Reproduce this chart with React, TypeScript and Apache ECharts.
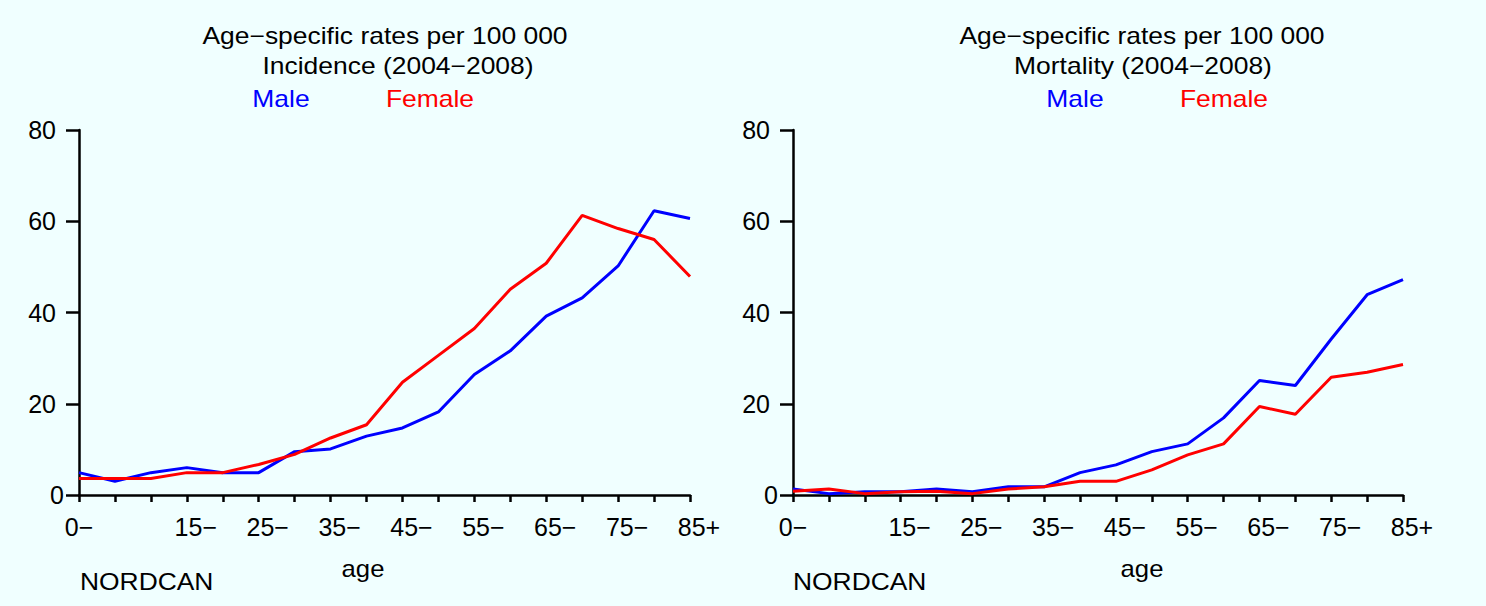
import React, { useEffect, useRef } from "react";
import * as echarts from "echarts";

const ageGroups = ["0−", "5−", "10−", "15−", "20−", "25−", "30−", "35−", "40−", "45−", "50−", "55−", "60−", "65−", "70−", "75−", "80−", "85+"];
const shownAgeLabels = ["0−", "15−", "25−", "35−", "45−", "55−", "65−", "75−", "85+"];
const yTicks = [0, 20, 40, 60, 80];

const incidenceMale = [4.9, 3.0, 4.9, 6.0, 4.9, 4.9, 9.5, 10.1, 12.9, 14.7, 18.2, 26.4, 31.6, 39.2, 43.2, 50.2, 62.3, 60.6];
const incidenceFemale = [3.6, 3.6, 3.6, 4.9, 4.9, 6.7, 8.9, 12.5, 15.4, 24.7, 30.6, 36.5, 45.1, 50.8, 61.3, 58.4, 56.0, 47.9];
const mortalityMale = [1.3, 0.3, 0.7, 0.7, 1.3, 0.7, 1.8, 1.8, 4.9, 6.6, 9.5, 11.2, 16.9, 25.1, 24.0, 34.2, 43.9, 47.2];
const mortalityFemale = [0.8, 1.3, 0.3, 0.7, 0.8, 0.3, 1.3, 1.8, 3.0, 3.0, 5.5, 8.8, 11.2, 19.4, 17.7, 25.8, 26.9, 28.6];

const titleLine1 = "Age−specific rates per 100 000";
const panelTitles = ["Incidence (2004−2008)", "Mortality (2004−2008)"];
const sexNames = ["Male", "Female"];
const sexColors = ["#0000FF", "#FF0000"];

const FONT = "Liberation Sans, Arial, Helvetica, sans-serif";

export default function App() {
  const ref = useRef<HTMLDivElement>(null);
  useEffect(() => {
    if (!ref.current) return;
    const chart = echarts.init(ref.current, null, { renderer: "svg" });

    const grids = [
      { left: 79, top: 130, width: 611, height: 365 },
      { left: 793, top: 130, width: 610, height: 365 },
    ];

    const mkX = (gi: number) => ({
      type: "category",
      gridIndex: gi,
      data: ageGroups,
      boundaryGap: false,
      axisLine: { show: true, lineStyle: { color: "#000", width: 2.5 } },
      axisTick: { show: true, interval: 0, length: 7, lineStyle: { color: "#000", width: 2.5 } },
      axisLabel: {
        interval: 0,
        margin: 19,
        color: "#000",
        fontFamily: FONT,
        fontSize: 25,
        formatter: (v: string, i: number) =>
          shownAgeLabels.includes(v) ? (i === 0 ? `{a|${v}}` : `{b|${v}}`) : "",
        rich: {
          a: { fontFamily: FONT, fontSize: 25, color: "#000" },
          b: { fontFamily: FONT, fontSize: 25, color: "#000", padding: [0, 0, 0, 18] },
        },
      },
      splitLine: { show: false },
    });

    const mkY = (gi: number) => ({
      type: "value",
      gridIndex: gi,
      min: yTicks[0],
      max: yTicks[yTicks.length - 1],
      interval: yTicks[1] - yTicks[0],
      axisLine: { show: true, lineStyle: { color: "#000", width: 2.5 } },
      axisTick: { show: true, length: 13, lineStyle: { color: "#000", width: 2.5 } },
      axisLabel: {
        margin: 15,
        color: "#000",
        fontFamily: FONT,
        fontSize: 25,
        formatter: (v: number) => (v === 0 ? `{z|${v}}` : `{n|${v}}`),
        rich: {
          z: { fontFamily: FONT, fontSize: 25, color: "#000" },
          n: { fontFamily: FONT, fontSize: 25, color: "#000", padding: [0, 8, 0, 0] },
        },
      },
      splitLine: { show: false },
    });

    const line = (name: string, data: number[], gi: number, color: string) => ({
      type: "line",
      name,
      xAxisIndex: gi,
      yAxisIndex: gi,
      data,
      symbol: "none",
      lineStyle: { color, width: 3 },
      itemStyle: { color },
    });

    const txt = (
      text: string,
      x: number,
      y: number,
      opts: { color?: string; align?: string; size?: number; sx?: number } = {}
    ) => ({
      type: "text",
      x,
      y,
      scaleX: opts.sx ?? 1.1,
      style: {
        text,
        fill: opts.color ?? "#000",
        font: `${opts.size ?? 24}px ${FONT}`,
        textAlign: opts.align ?? "center",
        textVerticalAlign: "middle",
      },
    });

    const titleX1 = [385, 1142];
    const titleX2 = [398, 1143];
    const maleX = [281, 1075];
    const femaleX = [430, 1224];
    const ageX = [363, 1142];
    const nordX = [80, 793];

    const graphics: any[] = [];
    [0, 1].forEach((p) => {
      graphics.push(txt(titleLine1, titleX1[p], 36, { size: 23, sx: 1.15 }));
      graphics.push(txt(panelTitles[p], titleX2[p], 66, { size: 23, sx: 1.15 }));
      graphics.push(txt(sexNames[0], maleX[p], 99, { size: 23, sx: 1.15, color: sexColors[0] }));
      graphics.push(txt(sexNames[1], femaleX[p], 99, { size: 23, sx: 1.15, color: sexColors[1] }));
      graphics.push(txt("age", ageX[p], 569, { size: 24, sx: 1.07 }));
      graphics.push(txt("NORDCAN", nordX[p], 581, { size: 24, sx: 1.1, align: "left" }));
    });

    chart.setOption({
      animation: false,
      backgroundColor: "#F0FFFF",
      grid: grids,
      xAxis: [mkX(0), mkX(1)],
      yAxis: [mkY(0), mkY(1)],
      series: [
        line(sexNames[0], incidenceMale, 0, sexColors[0]),
        line(sexNames[1], incidenceFemale, 0, sexColors[1]),
        line(sexNames[0], mortalityMale, 1, sexColors[0]),
        line(sexNames[1], mortalityFemale, 1, sexColors[1]),
      ],
      graphic: graphics,
    });

    return () => chart.dispose();
  }, []);

  return (
    <div
      ref={ref}
      style={{ position: "absolute", left: 0, top: 0, width: 1486, height: 606 }}
    />
  );
}
